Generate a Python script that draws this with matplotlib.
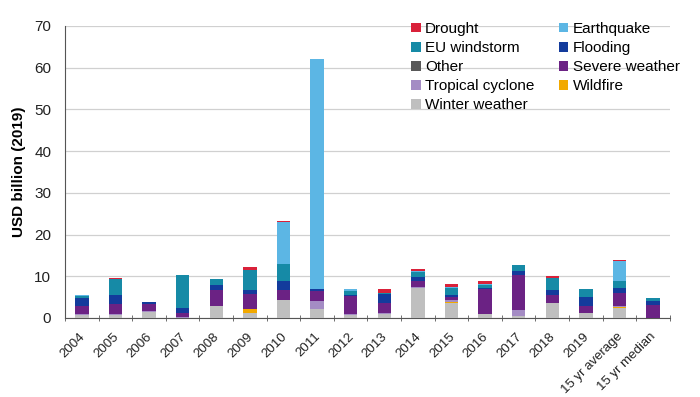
import numpy as np
import matplotlib
matplotlib.use('Agg')
import matplotlib.pyplot as plt
import matplotlib.transforms as mtransforms
from matplotlib.patches import Patch

plt.rcParams['font.family'] = ['Liberation Sans', 'DejaVu Sans']

categories = ['2004', '2005', '2006', '2007', '2008', '2009', '2010', '2011', '2012',
              '2013', '2014', '2015', '2016', '2017', '2018', '2019',
              '15 yr average', '15 yr median']

# USD billion (2019), stacked bottom-up in this order
winter     = [0.7, 0.7, 1.4, 0.1, 2.9, 1.2, 4.2, 2.2, 0.7, 1.0, 7.3, 3.7, 0.9, 0.5, 3.7, 1.1, 2.4, 0.0]
wildfire   = [0.0, 0.0, 0.0, 0.0, 0.0, 1.0, 0.0, 0.0, 0.0, 0.0, 0.0, 0.25, 0.0, 0.0, 0.0, 0.0, 0.2, 0.0]
tropical   = [0.2, 0.25, 0.35, 0.2, 0.0, 0.0, 0.0, 1.85, 0.15, 0.15, 0.2, 0.3, 0.0, 1.4, 0.0, 0.1, 0.3, 0.0]
severe     = [2.0, 2.5, 1.7, 1.0, 3.7, 3.6, 2.4, 2.35, 4.45, 2.5, 1.25, 0.9, 6.0, 8.3, 1.9, 1.6, 3.0, 3.1]
other      = [0.0] * 18
flooding   = [1.9, 2.1, 0.4, 1.0, 1.3, 0.9, 2.35, 0.6, 0.25, 2.1, 1.1, 0.3, 0.3, 1.0, 1.2, 2.3, 1.2, 1.0]
windstorm  = [0.4, 3.8, 0.0, 7.9, 1.5, 4.9, 3.95, 0.0, 1.0, 0.2, 1.1, 1.7, 0.6, 1.4, 2.9, 1.9, 1.85, 0.7]
earthquake = [0.2, 0.0, 0.0, 0.0, 0.0, 0.0, 10.1, 55.0, 0.5, 0.0, 0.3, 0.3, 0.3, 0.2, 0.0, 0.0, 4.7, 0.0]
drought    = [0.0, 0.2, 0.0, 0.0, 0.0, 0.7, 0.2, 0.0, 0.0, 0.9, 0.5, 0.8, 0.8, 0.0, 0.3, 0.0, 0.35, 0.0]

series = [
    ('Winter weather', winter, '#bfbfbf'),
    ('Wildfire', wildfire, '#f2a900'),
    ('Tropical cyclone', tropical, '#a48cc4'),
    ('Severe weather', severe, '#6b2284'),
    ('Other', other, '#595959'),
    ('Flooding', flooding, '#133b9c'),
    ('EU windstorm', windstorm, '#168aa6'),
    ('Earthquake', earthquake, '#5cb6e4'),
    ('Drought', drought, '#d9213a'),
]

fig = plt.figure(figsize=(7.0, 3.97), dpi=100)
ax = fig.add_axes([0.093, 0.199, 0.864, 0.736])

x = np.arange(len(categories))
bottom = np.zeros(len(categories))
colors = {}
for name, vals, col in series:
    vals = np.array(vals)
    ax.bar(x, vals, width=0.4, bottom=bottom, color=col, linewidth=0, zorder=3)
    bottom += vals
    colors[name] = col

ax.set_ylim(0, 70)
ax.set_xlim(-0.5, len(categories) - 0.5)
ax.set_yticks(np.arange(0, 71, 10))
ax.yaxis.grid(True, color='#d0d0d0', linewidth=0.9, zorder=0)
ax.tick_params(axis='y', length=0, labelsize=11, colors='#222222', pad=10)
ax.set_xticks(x)
ax.set_xticklabels(categories, rotation=45, ha='right', rotation_mode='anchor', fontsize=9.5,
                   color='#222222')
ax.tick_params(axis='x', which='major', length=0, pad=6)
# nudge the rotated labels a little left and down
shift = mtransforms.ScaledTranslation(-3 / 100, -4 / 100, fig.dpi_scale_trans)
for lbl in ax.get_xticklabels():
    lbl.set_transform(lbl.get_transform() + shift)
ax.set_xticks(np.arange(-0.5, len(categories)), minor=True)
ax.tick_params(axis='x', which='minor', length=4, direction='inout', color='#555555')
for s in ['top', 'right']:
    ax.spines[s].set_visible(False)
for s in ['left', 'bottom']:
    ax.spines[s].set_color('#555555')
ax.set_ylabel('USD billion (2019)', fontsize=11, fontweight='bold', labelpad=6)

order = ['Drought', 'EU windstorm', 'Other', 'Tropical cyclone', 'Winter weather',
         'Earthquake', 'Flooding', 'Severe weather', 'Wildfire']
handles = [Patch(facecolor=colors[n], label=n) for n in order]
ax.legend(handles=handles, ncol=2, loc='upper left', bbox_to_anchor=(0.55, 1.06),
          frameon=False, fontsize=11, handlelength=0.6, handleheight=0.6,
          handletextpad=0.3, columnspacing=1.6, labelspacing=0.33)

fig.savefig('out.png', dpi=100)
